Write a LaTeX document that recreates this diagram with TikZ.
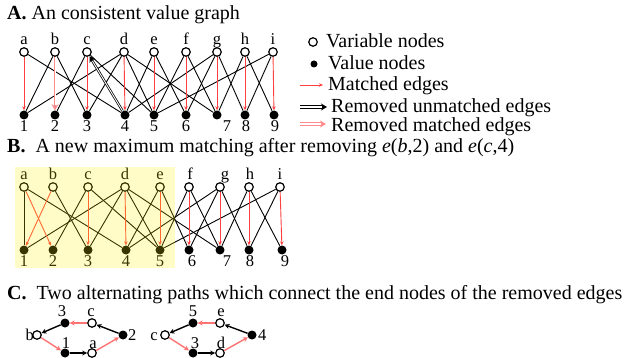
\documentclass[tikz,border=0pt]{standalone}
\usepackage{fontspec}
\setmainfont{Liberation Serif}
\usetikzlibrary{arrows.meta}
\begin{document}
\begin{tikzpicture}[x=1pt,y=-1pt,
 var/.style={circle,draw=black,line width=1.2pt,fill=white,inner sep=0pt,minimum size=8.5pt},
 val/.style={circle,fill=black,inner sep=0pt,minimum size=9pt},
 lab/.style={font=\fontsize{16.5}{16}\selectfont,inner sep=0pt,anchor=base},
 ttl/.style={font=\fontsize{20}{24}\selectfont,anchor=base west,inner sep=0pt},
 leg/.style={font=\fontsize{20}{24}\selectfont,anchor=base west,inner sep=0pt},
 ue/.style={line width=0.9pt,draw=black},
 me/.style={line width=0.9pt,draw=red!75,-{Stealth[length=4pt,width=3.5pt]}},
 dblk/.style={draw=black,line width=3.2pt,-{Stealth[length=6pt,width=7pt]}},
 dpnk/.style={draw=red!45,line width=3.2pt,-{Stealth[length=6pt,width=7pt]}},
 dgap/.style={draw=white,line width=1.4pt,shorten >=5.5pt},
 pathu/.style={line width=1.4pt,draw=black,-{Stealth[length=5pt,width=5pt]}},
 pathm/.style={line width=1.4pt,draw=red!55,-{Stealth[length=5pt,width=5pt]}}
]
\useasboundingbox (0,0) rectangle (634,358);

% titles
\node[ttl] (tA) at (7,20) {\textbf{A.} An consistent value graph};
\node[ttl] (tB) at (7,153) {\textbf{B.}\ \ A new maximum matching after removing \textit{e}(\textit{b},2) and \textit{e}(\textit{c},4)};
\node[ttl] (tC) at (7,299) {\textbf{C.}\ \ Two alternating paths which connect the end nodes of the removed edges};

% legend
\node[var] (lv) at (313,42) {};
\node[leg] (lvt) at (326,48) {Variable nodes};
\node[val,minimum size=7pt] (ld) at (314,64) {};
\node[leg] (ldt) at (328,70) {Value nodes};
\coordinate (m1) at (300,85); \coordinate (m2) at (323,85);
\draw[me] (m1) -- (m2);
\node[leg] (lmt) at (328,91) {Matched edges};
\coordinate (u1) at (300,107); \coordinate (u2) at (327,107);
\draw[dblk] (u1) -- (u2);
\draw[dgap] (u1) -- (u2);
\node[leg] (lut) at (331,113) {Removed unmatched edges};
\coordinate (r1) at (300,124); \coordinate (r2) at (326,124);
\draw[dpnk] (r1) -- (r2);
\draw[dgap] (r1) -- (r2);
\node[leg] (lrt) at (331,131.5) {Removed matched edges};

% ---------- graph A ----------
\foreach \n/\x in {a/24,b/55,c/87,d/124,e/154,f/186,g/217,h/245,i/273}{
  \node[var] (A\n) at (\x,52) {};
  \node[lab] (Al\n) at (\x,45) {\n};
}
\foreach \n/\x/\lx in {1/24/24,2/55/55,3/87/87,4/125/125,5/154/154,6/186/186,7/217/227,8/245/246,9/274/275}{
  \node[val] (A\n) at (\x,115) {};
  \node[lab] (Al\n) at (\lx,132) {\n};
}
\foreach \u/\v in {a/4,b/1,b/3,c/2,c/5,d/1,d/3,d/5,d/7,e/4,e/6,f/5,f/7,g/4,g/6,g/8,h/7,h/9,i/5,i/8}{
  \draw[ue] (A\u) -- (A\v);
}
\foreach \u/\v in {a/1,c/3,d/4,e/5,f/6,g/7,h/8,i/9}{
  \draw[me] (A\u) -- (A\v);
}
\draw[dpnk,line width=2.4pt] (Ab) -- (A2);
\draw[dgap,line width=0.9pt] (Ab) -- (A2);
\draw[dblk,line width=2.4pt] (A4) -- (Ac);
\draw[dgap,line width=0.9pt] (A4) -- (Ac);

% ---------- graph B ----------
\foreach \n/\x/\lx in {a/24/24,b/53/53,c/88/88,d/125/125,e/160/160,f/189/190,g/220/225,h/249/250,i/280/280}{
  \node[var] (B\n) at (\x,187) {};
  \node[lab] (Bl\n) at (\lx,180) {\n};
}
\foreach \n/\x/\lx in {1/24/24,2/53/53,3/88/88,4/126/126,5/160/160,6/189/192,7/220/227,8/249/250,9/282/285}{
  \node[val] (B\n) at (\x,250) {};
  \node[lab] (Bl\n) at (\lx,266) {\n};
}
\foreach \u/\v in {a/1,a/4,b/3,c/2,c/5,d/1,d/3,d/5,d/7,e/4,e/6,f/5,f/7,g/4,g/6,g/8,h/7,h/9,i/5,i/8}{
  \draw[ue] (B\u) -- (B\v);
}
\foreach \u/\v in {a/2,b/1,c/3,d/4,e/5,f/6,g/7,h/8,i/9}{
  \draw[me] (B\u) -- (B\v);
}
\fill[yellow,opacity=0.22] (15,167) rectangle (175,268);

% ---------- graph C ----------
\node[val] (C3) at (65,323) {};  \node[lab] (Cl3) at (62,316) {3};
\node[var] (Cc) at (92,323) {};  \node[lab] (Clc) at (91,316) {c};
\node[var] (Cb) at (37,335) {};  \node[lab,anchor=base east] (Clb) at (34,340) {b};
\node[val] (C2) at (123,335) {}; \node[lab,anchor=base west] (Cl2) at (128,340) {2};
\node[val] (C1) at (65,353) {};  \node[lab] (Cl1) at (66,348) {1};
\node[var] (Ca) at (92,353) {};  \node[lab] (Cla) at (93,348) {a};
\draw[pathu] (C3) -- (Cb);
\draw[pathm] (Cc) -- (C3);
\draw[pathu] (C2) -- (Cc);
\draw[pathm] (Cb) -- (C1);
\draw[pathu] (C1) -- (Ca);
\draw[pathm] (Ca) -- (C2);

\node[val] (D5) at (193,323) {}; \node[lab] (Dl5) at (193,316) {5};
\node[var] (De) at (220,323) {}; \node[lab] (Dle) at (221,316) {e};
\node[var] (Dc) at (165,335) {}; \node[lab,anchor=base east] (Dlc) at (158,340) {c};
\node[val] (D4) at (252,335) {}; \node[lab,anchor=base west] (Dl4) at (258,340) {4};
\node[val] (D3) at (193,353) {}; \node[lab] (Dl3) at (195,348) {3};
\node[var] (Dd) at (220,353) {}; \node[lab] (Dld) at (221,348) {d};
\draw[pathu] (D5) -- (Dc);
\draw[pathm] (De) -- (D5);
\draw[pathu] (D4) -- (De);
\draw[pathm] (Dc) -- (D3);
\draw[pathu] (D3) -- (Dd);
\draw[pathm] (Dd) -- (D4);
\end{tikzpicture}
\end{document}
